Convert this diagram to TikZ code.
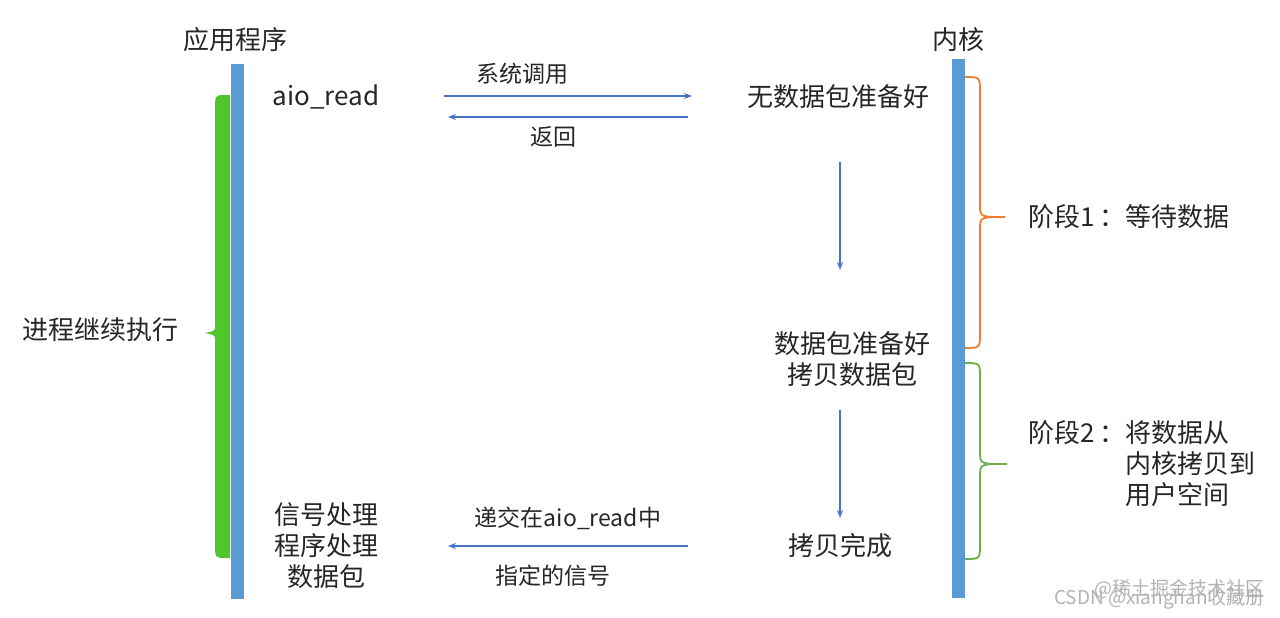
\documentclass[tikz,border=0pt]{standalone}
\usepackage{fontspec}
\setmainfont{Noto Sans CJK SC}
\usetikzlibrary{arrows.meta}
\definecolor{barblue}{RGB}{91,155,213}
\definecolor{arrblue}{RGB}{68,114,196}
\definecolor{runGreen}{RGB}{82,196,46}
\definecolor{waitOrange}{RGB}{237,125,49}
\definecolor{copyGreen}{RGB}{112,173,71}
\tikzset{
  lbl/.style={font=\fontsize{26}{31}\selectfont, text=black!85, inner sep=0pt, align=center},
  small/.style={font=\fontsize{23}{28}\selectfont, text=black!85, inner sep=0pt},
  wmark/.style={font=\fontsize{19}{22}\selectfont, text=black!30, inner sep=0pt},
  arr/.style={arrblue, line width=1.3pt, -{Stealth[length=8pt,width=6pt]}},
  brace/.style={line width=1.8pt},
}
\begin{document}
\begin{tikzpicture}[x=1pt,y=-1pt]
    \useasboundingbox (0,0) rectangle (1280,618);

    % Application side
    \fill[runGreen] (230,95) -- (226,95) .. controls (215,95) .. (215,110)
        -- (215,326) .. controls (215,331) .. (205,333) .. controls (215,335) .. (215,340)
        -- (215,543) .. controls (215,558) .. (226,558) -- (230,558) -- cycle;
    \fill[barblue] (231,64) rectangle (244,599);
    \node[lbl] (app) at (235,40) {应用程序};
    \node[lbl] (cont) at (100,330) {进程继续执行};
    \node[lbl] (aio) at (326,97) {aio\_read};
    \node[lbl] (handle) at (326,546) {信号处理\\程序处理\\数据包};

    % Kernel side
    \fill[barblue] (952,59) rectangle (965,598);
    \node[lbl] (kern) at (958,40) {内核};
    \node[lbl] (nodata) at (838,97) {无数据包准备好};
    \node[lbl] (ready) at (852,359) {数据包准备好\\拷贝数据包};
    \node[lbl] (done) at (840,546) {拷贝完成};

    % Phases
    \draw[brace, waitOrange] (965,77) .. controls (980,77) .. (980,92) -- (980,205)
        .. controls (980,217) .. (1005,217) .. controls (980,217) .. (980,229)
        -- (980,333) .. controls (980,348) .. (965,348);
    \node[lbl, anchor=west] (phase1) at (1028,217) {阶段1\hspace{5pt}：等待数据};
    \draw[brace, copyGreen] (965,363) .. controls (980,363) .. (980,378) -- (980,452)
        .. controls (980,464) .. (1007,464) .. controls (980,464) .. (980,476)
        -- (980,544) .. controls (980,559) .. (965,559);
    \node[lbl, anchor=west, align=left] (phase2) at (1028,464)
        {阶段2\hspace{5pt}：将数据从\\\phantom{阶段2\hspace{5pt}：}内核拷贝到\\\phantom{阶段2\hspace{5pt}：}用户空间};

    % Calls
    \coordinate (callS) at (444,96);
    \coordinate (callE) at (692,96);
    \coordinate (retS) at (688,117);
    \coordinate (retE) at (448,117);
    \draw[arr] (callS) -- (callE);
    \draw[arr] (retS) -- (retE);
    \node[small] (syscall) at (522,74) {系统调用};
    \node[small] (ret) at (553,137) {返回};

    % Kernel steps
    \coordinate (waitS) at (840,162);
    \coordinate (waitE) at (840,270);
    \coordinate (copyS) at (840,410);
    \coordinate (copyE) at (840,518);
    \draw[arr] (waitS) -- (waitE);
    \draw[arr] (copyS) -- (copyE);

    % Signal
    \coordinate (sigS) at (688,546);
    \coordinate (sigE) at (448,546);
    \draw[arr] (sigS) -- (sigE);
    \node[small] (deliver) at (568,518) {递交在aio\_read中};
    \node[small] (signal) at (553,576) {指定的信号};

    % Watermark
    \node[wmark, anchor=east] (mark1) at (1265,589) {@稀土掘金技术社区};
    \node[wmark, anchor=east] (mark2) at (1265,599) {CSDN @xianghan收藏册};
\end{tikzpicture}
\end{document}
